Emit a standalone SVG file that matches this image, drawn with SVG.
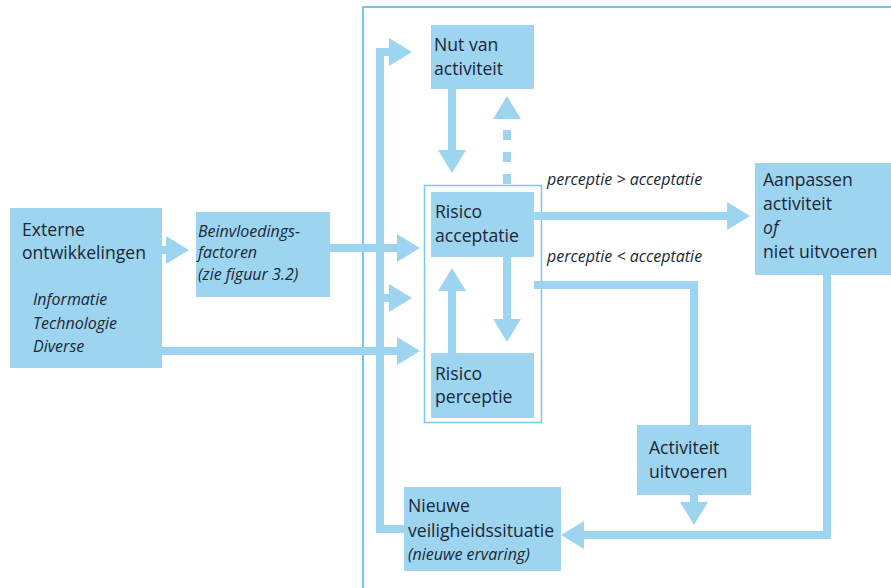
<svg xmlns="http://www.w3.org/2000/svg" width="891" height="588" viewBox="0 0 891 588">
<style>
.box{fill:#9dd4f0;}
.frame{fill:none;stroke:#4db2e2;stroke-width:1.5;}
.iframe{fill:none;stroke:#7cc7ec;stroke-width:1.5;}
.c{fill:none;stroke:#9dd4f0;stroke-width:8;}
.dash{stroke-dasharray:10 12;}
text{font-family:"Open Sans","Liberation Sans",sans-serif;font-size:17.6px;fill:#1a2735;}
.i{font-style:italic;font-size:16px;}
</style>
<defs>
<marker id="ah" viewBox="0 0 23 28" refX="0" refY="14" markerWidth="23" markerHeight="28" markerUnits="userSpaceOnUse" orient="auto">
<path d="M0,0 L23,14 L0,28 Z" fill="#9dd4f0"/>
</marker>
</defs>
<rect width="891" height="588" fill="#ffffff"/>
<rect class="frame" x="363" y="7" width="560" height="620"/>
<rect class="iframe" x="424.5" y="185.5" width="117" height="237"/>
<g id="connectors">
<path class="c" d="M162,250 H166" marker-end="url(#ah)"/>
<path class="c" d="M330,248 H397" marker-end="url(#ah)"/>
<path class="c" d="M162,351 H397" marker-end="url(#ah)"/>
<path class="c" d="M404,529 H380 V52 H389" marker-end="url(#ah)"/>
<path class="c" d="M380,298 H389" marker-end="url(#ah)"/>
<path class="c" d="M452,89 V150" marker-end="url(#ah)"/>
<path class="c dash" d="M507,184 V119" marker-end="url(#ah)"/>
<path class="c" d="M452,353 V291" marker-end="url(#ah)"/>
<path class="c" d="M507,257 V319" marker-end="url(#ah)"/>
<path class="c" d="M534,216 H727" marker-end="url(#ah)"/>
<path class="c" d="M534,285 H694 V425"/>
<path class="c" d="M694,495 V502" marker-end="url(#ah)"/>
<path class="c" d="M827,275 V535 H584" marker-end="url(#ah)"/>
</g>
<g id="externe">
<rect class="box" x="10" y="208" width="152" height="160"/>
<text x="22" y="236">Externe</text>
<text x="22" y="259">ontwikkelingen</text>
<text class="i" x="33" y="305">Informatie</text>
<text class="i" x="33" y="329">Technologie</text>
<text class="i" x="33" y="352">Diverse</text>
</g>
<g id="beinvloedings">
<rect class="box" x="196" y="212" width="134" height="85"/>
<text class="i" x="198" y="237">Beinvloedings-</text>
<text class="i" x="198" y="258">factoren</text>
<text class="i" x="198" y="280">(zie figuur 3.2)</text>
</g>
<g id="nut">
<rect class="box" x="431" y="25" width="103" height="64"/>
<text x="434" y="51">Nut van</text>
<text x="434" y="75">activiteit</text>
</g>
<g id="acceptatie">
<rect class="box" x="431" y="192" width="103" height="65"/>
<text x="435" y="218">Risico</text>
<text x="435" y="242">acceptatie</text>
</g>
<g id="perceptie">
<rect class="box" x="431" y="353" width="103" height="65"/>
<text x="435" y="380">Risico</text>
<text x="435" y="403">perceptie</text>
</g>
<g id="labels">
<text class="i" x="547" y="185">perceptie &gt; acceptatie</text>
<text class="i" x="547" y="262">perceptie &lt; acceptatie</text>
</g>
<g id="aanpassen">
<rect class="box" x="755" y="163" width="136" height="112"/>
<text x="763" y="186">Aanpassen</text>
<text x="763" y="210">activiteit</text>
<text class="i" x="763" y="234" style="font-size:17.6px">of</text>
<text x="763" y="258">niet uitvoeren</text>
</g>
<g id="activiteit">
<rect class="box" x="637" y="425" width="114" height="70"/>
<text x="649" y="454">Activiteit</text>
<text x="649" y="478">uitvoeren</text>
</g>
<g id="nieuwe">
<rect class="box" x="404" y="487" width="157" height="84"/>
<text x="408" y="512">Nieuwe</text>
<text x="408" y="537">veiligheidssituatie</text>
<text class="i" x="408" y="560">(nieuwe ervaring)</text>
</g>
</svg>
